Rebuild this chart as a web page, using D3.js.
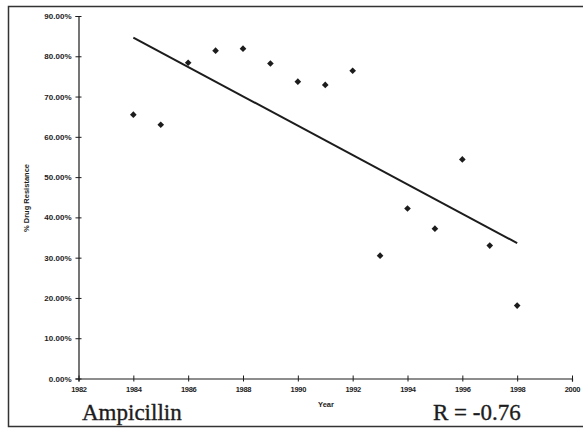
<!doctype html>
<html>
  <head>
    <meta charset="utf-8">
    <title>Ampicillin resistance</title>
    <script src="https://cdnjs.cloudflare.com/ajax/libs/d3/7.8.5/d3.min.js"></script>
    <style>
      body { margin: 0; background: #fff; }
      svg { display: block; }
    </style>
  </head>
  <body>
    <div id="chart"></div>

    <script>
      // Data
      const years = [1984, 1985, 1986, 1987, 1988, 1989, 1990, 1991, 1992, 1993, 1994, 1995, 1996, 1997, 1998];
      const resistance = [0.655, 0.630, 0.784, 0.814, 0.819, 0.782, 0.737, 0.729, 0.764, 0.305, 0.422, 0.372, 0.544, 0.330, 0.181];
      const xTicks = [1982, 1984, 1986, 1988, 1990, 1992, 1994, 1996, 1998, 2000];
      const yTicks = [0, 0.1, 0.2, 0.3, 0.4, 0.5, 0.6, 0.7, 0.8, 0.9];
      const drugName = 'Ampicillin';
      const rLabel = 'R = -0.76';

      const width = 583, height = 428;
      const ink = '#1c1c1c';

      const svg = d3.select('#chart')
        .append('svg')
        .attr('width', width)
        .attr('height', height);

      // frame round the whole figure
      svg.append('rect')
        .attr('x', 8.5).attr('y', 6.5)
        .attr('width', 600).attr('height', 420)
        .attr('fill', 'none')
        .attr('stroke', '#333')
        .attr('stroke-width', 1.5);

      const x = d3.scaleLinear().domain([1982, 2000]).range([78.5, 572]);
      const y = d3.scaleLinear().domain([0, 0.9]).range([378.5, 16]);

      // y axis
      const yAxis = svg.append('g')
        .attr('transform', `translate(${x(1982)},0)`)
        .call(d3.axisLeft(y).tickValues(yTicks).tickFormat(d3.format('.2%')).tickSize(3).tickPadding(4));
      yAxis.selectAll('.tick line').attr('x2', 3).attr('x1', -3);

      // x axis
      const xAxis = svg.append('g')
        .attr('transform', `translate(0,${y(0)})`)
        .call(d3.axisBottom(x).tickValues(xTicks).tickFormat(d3.format('d')).tickSize(3).tickPadding(5));
      xAxis.selectAll('.tick line').attr('y1', -3).attr('y2', 3);

      [yAxis, xAxis].forEach(g => {
        g.select('.domain').attr('stroke', ink).attr('stroke-width', 1.2);
        g.selectAll('.tick line').attr('stroke', ink);
        g.selectAll('.tick text')
          .attr('fill', ink)
          .attr('font-family', 'Liberation Sans, Arial, sans-serif')
          .attr('font-weight', 'bold')
          .attr('font-size', '8px');
      });
      xAxis.selectAll('.tick text').attr('font-size', '7.5px').attr('letter-spacing', '-0.3px');

      // least-squares trend line from the points
      const mx = d3.mean(years), my = d3.mean(resistance);
      const sxy = d3.sum(years, (t, i) => (t - mx) * (resistance[i] - my));
      const sxx = d3.sum(years, t => (t - mx) * (t - mx));
      const slope = sxy / sxx;
      const trend = d3.extent(years).map(t => [t, my + slope * (t - mx)]);

      svg.append('path')
        .datum(trend)
        .attr('fill', 'none')
        .attr('stroke', ink)
        .attr('stroke-width', 2)
        .attr('d', d3.line().x(d => x(d[0])).y(d => y(d[1])));

      // points
      svg.selectAll('path.pt')
        .data(years)
        .join('path')
        .attr('class', 'pt')
        .attr('transform', (t, i) => `translate(${x(t)},${y(resistance[i])}) rotate(45)`)
        .attr('d', d3.symbol(d3.symbolSquare, 22))
        .attr('fill', ink);

      // axis titles
      svg.append('text')
        .attr('x', 326).attr('y', 407)
        .attr('text-anchor', 'middle')
        .attr('font-family', 'Liberation Sans, Arial, sans-serif')
        .attr('font-weight', 'bold')
        .attr('font-size', '7.5px')
        .attr('fill', ink)
        .text('Year');

      svg.append('text')
        .attr('transform', 'translate(29,198) rotate(-90)')
        .attr('text-anchor', 'middle')
        .attr('font-family', 'Liberation Sans, Arial, sans-serif')
        .attr('font-weight', 'bold')
        .attr('font-size', '7.5px')
        .attr('fill', ink)
        .text('% Drug Resistance');

      // captions
      svg.selectAll('text.caption')
        .data([{ t: drugName, x: 82 }, { t: rLabel, x: 433 }])
        .join('text')
        .attr('class', 'caption')
        .attr('x', d => d.x).attr('y', 420)
        .attr('font-family', 'Liberation Serif, Times New Roman, serif')
        .attr('font-size', '23px')
        .attr('fill', ink)
        .attr('stroke', ink)
        .attr('stroke-width', 0.35)
        .text(d => d.t);
    </script>
  </body>
</html>
